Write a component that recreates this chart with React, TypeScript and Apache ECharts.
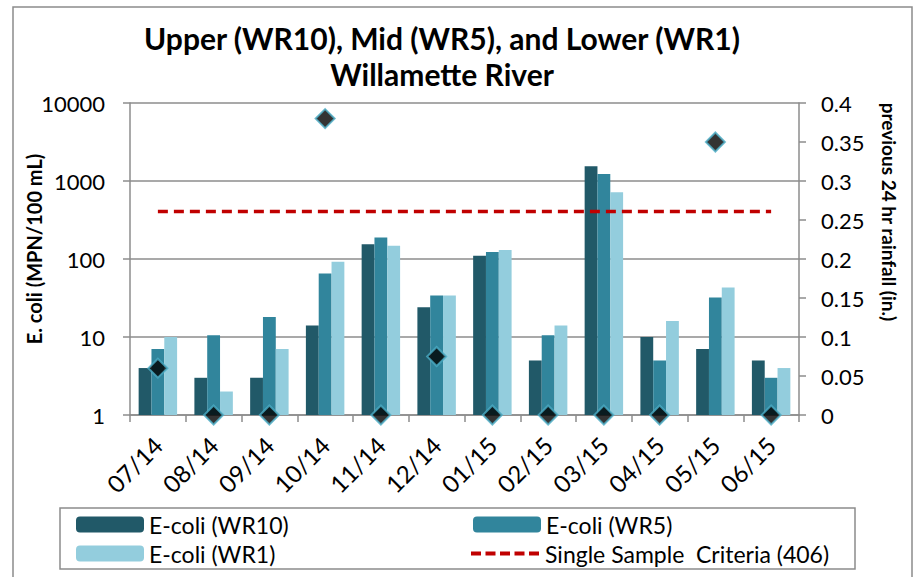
import React, { useEffect, useRef } from "react";
import * as echarts from "echarts";

const months = ["07/14", "08/14", "09/14", "10/14", "11/14", "12/14", "01/15", "02/15", "03/15", "04/15", "05/15", "06/15"];
const wr10 = [4, 3, 3, 14, 155, 24, 110, 5, 1550, 10, 7, 5];
const wr5 = [7, 10.5, 18, 65, 188, 34, 123, 10.5, 1230, 5, 32, 3];
const wr1 = [10, 2, 7, 92, 148, 34, 130, 14, 720, 16, 43, 4];
const rainfall = [0.06, 0, 0, 0.38, 0, 0.075, 0, 0, 0, 0, 0.35, 0];
const criteria = 406;
const criteriaLine = months.map(() => criteria);
const leftTicks = [1, 10, 100, 1000, 10000];

const FONT = "Lato, 'Open Sans', sans-serif";
const GRAY = "#8c8c8c";
const DASH_ICON = "path://M0,0h10v4h-10z M14.5,0h10v4h-10z M29,0h10v4h-10z M43.5,0h10v4h-10z M58,0h10v4h-10z";

export default function App() {
  const ref = useRef<HTMLDivElement>(null);
  useEffect(() => {
    if (!ref.current) return;
    const chart = echarts.init(ref.current, null, { renderer: "svg" });
    const legendText = { fontFamily: FONT, fontSize: 23, color: "#000" };
    const nameStyle = { fontFamily: FONT, fontWeight: "bold", fill: "#000" };
    const legendBase = { padding: 0, itemGap: 6, textStyle: legendText };
    chart.setOption({
      animation: false,
      backgroundColor: "#fff",
      textStyle: { fontFamily: FONT },
      title: {
        text: "Upper (WR10), Mid (WR5), and Lower (WR1)\nWillamette River",
        left: 437,
        top: 15,
        textAlign: "center",
        textStyle: { fontFamily: FONT, fontSize: 30, fontWeight: "bold", color: "#000", lineHeight: 36 },
      },
      grid: { left: 130, right: 123, top: 103, bottom: 162, containLabel: false },
      xAxis: {
        type: "category",
        data: months,
        axisLine: { lineStyle: { color: GRAY, width: 1.5 } },
        axisTick: { show: true, length: 7, lineStyle: { color: GRAY, width: 1.5 } },
        axisLabel: { rotate: 45, fontSize: 24, color: "#000", fontFamily: FONT, margin: 26 },
      },
      yAxis: [
        {
          type: "log",
          logBase: 10,
          min: leftTicks[0],
          max: leftTicks[leftTicks.length - 1],
          axisLine: { show: true, lineStyle: { color: GRAY, width: 1.5 } },
          axisTick: { show: true, length: 7, lineStyle: { color: GRAY, width: 1.5 } },
          axisLabel: { fontSize: 22, color: "#000", fontFamily: FONT, margin: 25, formatter: (v: number) => String(Math.round(v)) },
          splitLine: { show: true, lineStyle: { color: GRAY, width: 1.5 } },
          minorTick: { show: false },
        },
        {
          type: "value",
          min: 0,
          max: 0.4,
          interval: 0.05,
          axisLine: { show: true, lineStyle: { color: GRAY, width: 1.5 } },
          axisTick: { show: true, length: 7, lineStyle: { color: GRAY, width: 1.5 } },
          axisLabel: { fontSize: 22, color: "#000", fontFamily: FONT, margin: 22 },
          splitLine: { show: false },
        },
      ],
      legend: [
        { ...legendBase, data: ["E-coli (WR10)"], left: 76, top: 513, itemWidth: 68, itemHeight: 16 },
        { ...legendBase, data: ["E-coli (WR5)"], left: 473, top: 513, itemWidth: 68, itemHeight: 16 },
        { ...legendBase, data: ["E-coli (WR1)"], left: 76, top: 542, itemWidth: 68, itemHeight: 16 },
        {
          ...legendBase,
          data: [{ name: "Single Sample  Criteria (406)", icon: DASH_ICON }],
          left: 471,
          top: 542,
          itemWidth: 70,
          itemHeight: 4,
        },
      ],
      graphic: [
        { type: "rect", shape: { x: 13, y: 7, width: 899, height: 580 }, style: { fill: "none", stroke: GRAY, lineWidth: 1.5 }, silent: true, z: -1 },
        { type: "rect", shape: { x: 60, y: 508, width: 795, height: 61 }, style: { fill: "none", stroke: GRAY, lineWidth: 1.5 }, silent: true },
        {
          type: "text",
          x: 34,
          y: 249,
          rotation: Math.PI / 2,
          style: { text: "E. coli (MPN/100 mL)", align: "center", verticalAlign: "middle", fontSize: 20, ...nameStyle },
          silent: true,
        },
        {
          type: "text",
          x: 889,
          y: 212,
          rotation: -Math.PI / 2,
          style: { text: "previous 24 hr rainfall (in.)", align: "center", verticalAlign: "middle", fontSize: 19, ...nameStyle },
          silent: true,
        },
      ],
      series: [
        { name: "E-coli (WR10)", type: "bar", data: wr10, barGap: "0%", barCategoryGap: "31%", itemStyle: { color: "#215968" } },
        { name: "E-coli (WR5)", type: "bar", data: wr5, barGap: "0%", barCategoryGap: "31%", itemStyle: { color: "#31859C" } },
        { name: "E-coli (WR1)", type: "bar", data: wr1, barGap: "0%", barCategoryGap: "31%", itemStyle: { color: "#93CDDD" } },
        {
          name: "Single Sample  Criteria (406)",
          type: "line",
          data: criteriaLine,
          symbol: "none",
          lineStyle: { color: "#C00000", width: 3.5, type: [10, 6] },
          itemStyle: { color: "#C00000" },
          z: 5,
        },
        {
          name: "rainfall",
          type: "scatter",
          yAxisIndex: 1,
          data: rainfall,
          symbol: "diamond",
          symbolSize: 19,
          clip: false,
          itemStyle: { color: "#000", borderColor: "#4BACC6", borderWidth: 2 },
          z: 6,
        },
      ],
    });
    return () => chart.dispose();
  }, []);
  return <div ref={ref} style={{ position: "fixed", left: 0, top: 0, width: 922, height: 577 }} />;
}
